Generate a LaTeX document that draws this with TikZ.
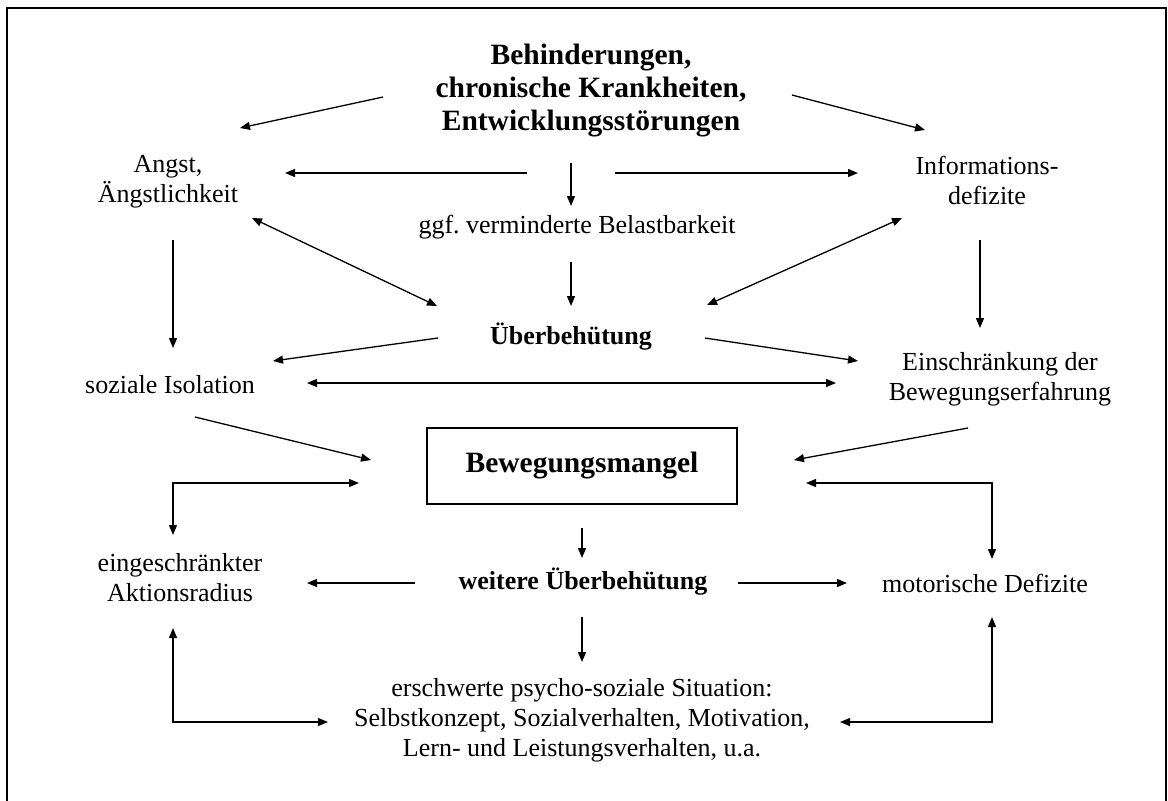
\documentclass[tikz,border=0pt]{standalone}
\usepackage{fontspec}
\setmainfont{Liberation Serif}
\usepackage{tikz}
\usetikzlibrary{calc, arrows.meta}
\frenchspacing

\tikzset{
  txt/.style={align=center, inner sep=0pt, font=\fontsize{13}{15}\selectfont},
  fett/.style={align=center, inner sep=0pt, font=\fontsize{13}{15}\selectfont\bfseries},
  titel/.style={align=center, inner sep=0pt, font=\fontsize{14.75}{16.5}\selectfont\bfseries},
  arr/.style={-{Triangle[length=5pt,width=4pt]}, line width=0.65pt},
  darr/.style={{Triangle[length=5pt,width=4pt]}-{Triangle[length=5pt,width=4pt]}, line width=0.65pt}
}

\begin{document}
\begin{tikzpicture}[x=0.5pt, y=-0.5pt]
  \useasboundingbox (0,0) rectangle (1168,800);
  \draw[line width=0.9pt] (7,8) rectangle (1166,803);

  % Knoten
  \node[titel] (behind) at (591,91) {Behinderungen,\\chronische Krankheiten,\\Entwicklungsstörungen};
  \node[txt] (angst) at (168,182) {Angst,\\Ängstlichkeit};
  \node[txt] (info) at (987,180) {Informations-\\defizite};
  \node[txt] (belast) at (577,227) {ggf. verminderte Belastbarkeit};
  \node[fett] (ueber) at (571,337) {Überbehütung};
  \node[txt] (sozial) at (170,385) {soziale Isolation};
  \node[txt] (einschr) at (1000,379) {Einschränkung der\\Bewegungserfahrung};
  \node[titel, draw, line width=1pt, minimum width=155pt, minimum height=38pt] (mangel) at (582,466) {Bewegungsmangel};
  \node[fett] (weiter) at (583,582) {weitere Überbehütung};
  \node[txt] (aktion) at (180,578) {eingeschränkter\\Aktionsradius};
  \node[txt] (motor) at (985,583) {motorische Defizite};
  \node[txt] (psycho) at (582,720) {erschwerte psycho-soziale Situation:\\Selbstkonzept, Sozialverhalten, Motivation,\\Lern- und Leistungsverhalten, u.a.};

  % Pfeile oben
  \draw[arr] ([shift={(-208,6)}]behind.center) -- ([shift={(72,-54)}]angst.center);
  \draw[arr] ([shift={(201,4)}]behind.center) -- ([shift={(-62,-50)}]info.center);
  \draw[arr] ([shift={(-64,82)}]behind.center) -- ([shift={(117,-9)}]angst.center);
  \draw[arr] ([shift={(24,82)}]behind.center) -- ([shift={(-129,-7)}]info.center);
  \draw[arr] ([shift={(-20,72)}]behind.center) -- ([shift={(-6,-21)}]belast.center);
  \draw[arr] ([shift={(-6,35)}]belast.center) -- ([shift={(0,-31)}]ueber.center);
  \draw[darr] ([shift={(84,36)}]angst.center) -- ([shift={(-134,-31)}]ueber.center);
  \draw[darr] ([shift={(-85,38)}]info.center) -- ([shift={(136,-32)}]ueber.center);
  \draw[arr] ([shift={(5,58)}]angst.center) -- ([shift={(3,-37)}]sozial.center);
  \draw[arr] ([shift={(-7,60)}]info.center) -- ([shift={(-20,-51)}]einschr.center);

  % Pfeile Mitte
  \draw[arr] ([shift={(-133,1)}]ueber.center) -- ([shift={(103,-24)}]sozial.center);
  \draw[arr] ([shift={(134,1)}]ueber.center) -- ([shift={(-142,-18)}]einschr.center);
  \draw[darr] ([shift={(137,-2)}]sozial.center) -- ([shift={(-164,4)}]einschr.center);
  \draw[arr] ([shift={(25,32)}]sozial.center) -- ([shift={(-55,-6)}]mangel.west);
  \draw[arr] ([shift={(-32,49)}]einschr.center) -- ([shift={(56,-6)}]mangel.east);
  \draw[darr] ([shift={(-67,17)}]mangel.west) -| ([shift={(-7,-43)}]aktion.center);
  \draw[darr] ([shift={(68,17)}]mangel.east) -| ([shift={(7,-24)}]motor.center);

  % Pfeile unten
  \draw[arr] ([shift={(0,23)}]mangel.south) -- ([shift={(-1,-24)}]weiter.center);
  \draw[arr] ([shift={(-168,1)}]weiter.center) -- ([shift={(127,5)}]aktion.center);
  \draw[arr] ([shift={(155,1)}]weiter.center) -- ([shift={(-138,0)}]motor.center);
  \draw[arr] ([shift={(-1,35)}]weiter.center) -- ([shift={(0,-58)}]psycho.center);
  \draw[darr] ([shift={(-7,50)}]aktion.center) |- ([shift={(-254,2)}]psycho.center);
  \draw[darr] ([shift={(7,34)}]motor.center) |- ([shift={(258,2)}]psycho.center);
\end{tikzpicture}
\end{document}
